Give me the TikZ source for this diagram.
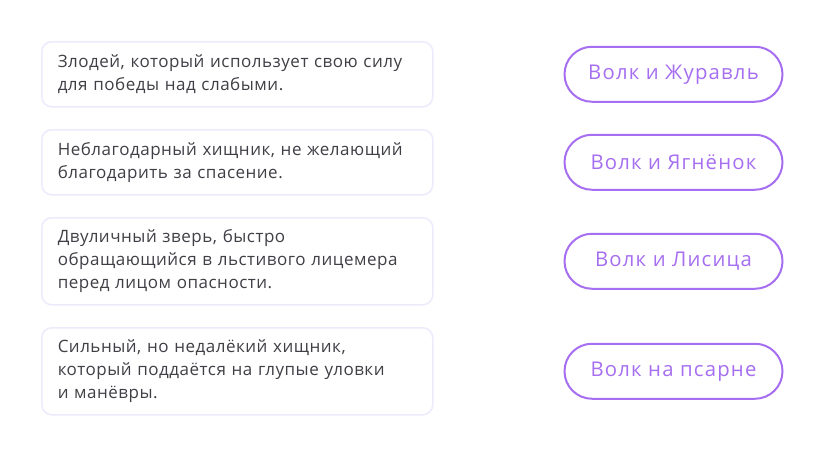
\documentclass[tikz,border=0pt]{standalone}
\usepackage{fontspec}
\setmainfont{Open Sans}
\usetikzlibrary{positioning}
\definecolor{boxline}{HTML}{ECEBFB}
\definecolor{desctext}{HTML}{3F3F46}
\definecolor{wolfpurple}{HTML}{A66EF0}
\tikzset{
  descbox/.style={draw=boxline,line width=1.5pt,rounded corners=10pt,fill=white,
    text width=359pt,inner xsep=16pt,inner ysep=0pt,align=left,anchor=north west,
    text=desctext,font=\addfontfeatures{LetterSpace=3}\fontsize{17}{23}\selectfont},
  pill/.style={draw=wolfpurple,line width=2pt,rounded corners=27.5pt,
    minimum width=218pt,minimum height=55pt,inner sep=0pt,anchor=west,
    text=wolfpurple,font=\addfontfeatures{LetterSpace=6}\fontsize{20.3}{22}\selectfont}
}
\begin{document}
\begin{tikzpicture}[x=1pt,y=-1pt]
	\useasboundingbox[fill=white] (0,0) rectangle (822,456);
	% descriptions
	\node[descbox,minimum height=65pt] (d1) at (41,41) {Злодей, который использует свою силу\\для победы над слабыми.};
	\node[descbox,minimum height=65pt] (d2) at (41,129) {Неблагодарный хищник, не желающий\\благодарить за спасение.};
	\node[descbox,minimum height=87pt] (d3) at (41,217) {Двуличный зверь, быстро\\обращающийся в льстивого лицемера\\перед лицом опасности.};
	\node[descbox,minimum height=87pt] (d4) at (41,327) {Сильный, но недалёкий хищник,\\который поддаётся на глупые уловки\\и манёвры.};
	% titles
	\node[pill,right=130pt of d1.east] (t1) {Волк и Журавль};
	\node[pill,right=130pt of d2.east] (t2) {Волк и Ягнёнок};
	\node[pill,right=130pt of d3.east] (t3) {Волк и Лисица};
	\node[pill,right=130pt of d4.east] (t4) {Волк на псарне};
\end{tikzpicture}
\end{document}
